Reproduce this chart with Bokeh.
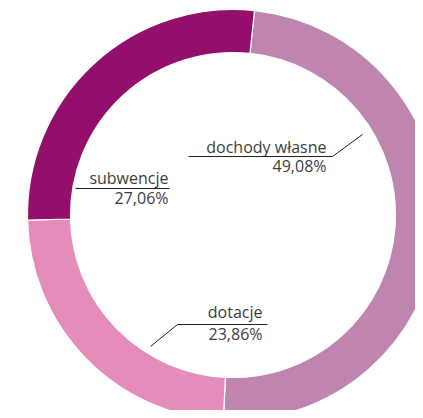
import numpy as np
from bokeh.plotting import figure
from bokeh.models import ColumnDataSource, Range1d
from bokeh.core.properties import value
from bokeh.embed import file_html
from bokeh.resources import INLINE

# ---- data ----
categories = ["dochody własne", "dotacje", "subwencje"]
shares = [49.08, 23.86, 27.06]
share_labels = ["49,08%", "23,86%", "27,06%"]
colors = ["#BF85AE", "#E48CBA", "#940E6C"]

# ---- geometry / style ----
W, H = 415, 410
CX, CY = 232.5, 214.5          # centre in picture pixels
R_OUT, R_IN = 205.5, 162.5
START_OFFSET_DEG = 6.0         # first slice starts 6 deg clockwise from 12 o'clock
TEXT_SHIFT = 7                 # baseline correction for svg text

def px(x):
    return x - CX

def py(y):
    return CY - y

frac = np.array(shares) / np.sum(shares)
cum = np.concatenate([[0.0], np.cumsum(frac)])
base = np.pi / 2 - np.deg2rad(START_OFFSET_DEG)
start = base - cum[:-1] * 2 * np.pi
end = base - cum[1:] * 2 * np.pi

src = ColumnDataSource(dict(start=start, end=end, color=colors, cat=categories))

p = figure(width=W, height=H, output_backend="svg", toolbar_location=None,
           x_range=Range1d(px(0), px(W)), y_range=Range1d(py(H), py(0)),
           min_border=0, outline_line_color=None)
p.axis.visible = False
p.grid.visible = False
p.background_fill_color = "white"
p.border_fill_color = "white"

p.annular_wedge(x=0, y=0, inner_radius=R_IN, outer_radius=R_OUT,
                start_angle="start", end_angle="end", direction="clock",
                fill_color="color", line_color="white", line_width=1.2, source=src)

font = value("Open Sans")
TXT = "#3d3d3d"
FS = "16px"

# label placements (picture pixels): (text right x, name baseline y, pct baseline y)
label_pos = {
    "dochody własne": (326, 153, 172),
    "dotacje": (262, 318, 340),
    "subwencje": (168, 184, 204),
}
# leader lines (picture pixel polylines)
leaders = {
    "dochody własne": [(188, 156), (332, 156), (362, 134)],
    "dotacje": [(267, 324), (177, 324), (150, 346)],
    "subwencje": [(75, 188), (169, 188)],
}

for cat, lab in zip(categories, share_labels):
    xr, yb1, yb2 = label_pos[cat]
    p.text(x=[px(xr)], y=[py(yb1 - TEXT_SHIFT)], text=[cat], text_align="right",
           text_baseline="alphabetic", text_font=font, text_font_size=FS,
           text_color=TXT)
    p.text(x=[px(xr)], y=[py(yb2 - TEXT_SHIFT)], text=[lab], text_align="right",
           text_baseline="alphabetic", text_font=font, text_font_size=FS,
           text_color=TXT)
    pts = leaders[cat]
    p.line(x=[px(a) for a, b in pts], y=[py(b) for a, b in pts],
           line_color="#222222", line_width=1)

open("out.html", "w").write(file_html(p, INLINE))
